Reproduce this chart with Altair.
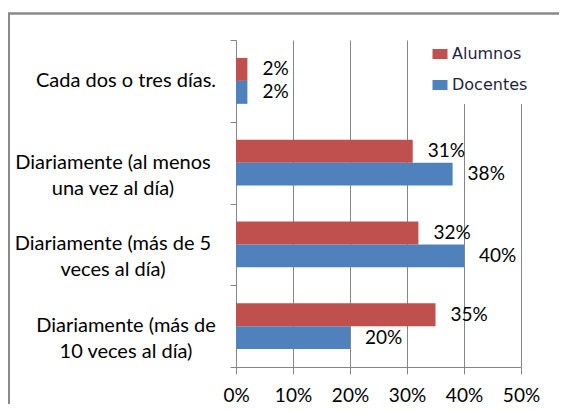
import altair as alt
import pandas as pd

categories = [
    "Cada dos o tres días.",
    "Diariamente (al menos\nuna vez al día)",
    "Diariamente (más de 5\nveces al día)",
    "Diariamente (más de\n10 veces al día)",
]
series = ["Alumnos", "Docentes"]
alumnos = [2, 31, 32, 35]
docentes = [2, 38, 40, 20]
x_ticks = [0, 10, 20, 30, 40, 50]
colors = ["#C0504D", "#4F81BD"]

rows = []
for c, a, d in zip(categories, alumnos, docentes):
    rows.append({"cat": c, "serie": "Alumnos", "val": a / 100})
    rows.append({"cat": c, "serie": "Docentes", "val": d / 100})
df = pd.DataFrame(rows)
df_cat = pd.DataFrame({"cat": categories})

GRAY = "#868686"

y_enc = alt.Y(
    "cat:N",
    sort=categories,
    scale=alt.Scale(paddingInner=0, paddingOuter=0),
    axis=alt.Axis(
        title=None,
        tickBand="extent",
        tickSize=6,
        tickColor=GRAY,
        domainColor=GRAY,
        grid=False,
        labels=False,
    ),
)
y_plain = alt.Y("cat:N", sort=categories)
y_off = alt.YOffset("serie:N", sort=series,
                    scale=alt.Scale(domain=series, paddingInner=0, paddingOuter=0.78))
x_enc = alt.X(
    "val:Q",
    scale=alt.Scale(domain=[0, 0.5], nice=False, zero=True),
    axis=alt.Axis(
        title=None,
        values=[v / 100 for v in x_ticks],
        format=".0%",
        grid=True,
        gridColor=GRAY,
        domainColor=GRAY,
        tickColor=GRAY,
        tickSize=7,
        labelFlush=False,
        labelFont="Lato",
        labelFontSize=19,
        labelColor="#000000",
        labelPadding=12,
    ),
)

legend = alt.Legend(
    title=None,
    orient="none",
    legendX=185,
    legendY=-5,
    fillColor="white",
    padding=11,
    symbolType="M-1,-0.67L1,-0.67L1,0.67L-1,0.67Z",
    symbolSize=225,
    symbolStrokeWidth=0,
    labelFont="DejaVu Sans",
    labelFontSize=16,
    labelColor="#1f1f3f",
    labelOffset=4,
    rowPadding=15,
)

bars = alt.Chart(df).mark_bar().encode(
    y=y_enc,
    yOffset=y_off,
    x=x_enc,
    color=alt.Color("serie:N", sort=series,
                    scale=alt.Scale(domain=series, range=colors), legend=legend),
)

texts = alt.Chart(df).mark_text(
    align="left", baseline="middle", dx=15, font="Lato", fontSize=19, color="#000000"
).encode(
    y=y_plain,
    yOffset=y_off,
    x=alt.X("val:Q"),
    text=alt.Text("val:Q", format=".0%"),
)

cat_style = dict(align="center", baseline="middle", lineBreak="\n", lineHeight=26,
                 font="Lato", fontSize=20, color="#000000")
cat_a = alt.Chart(df_cat).transform_filter(
    alt.FieldOneOfPredicate(field="cat", oneOf=[categories[0], categories[3]])
).mark_text(**cat_style).encode(y=y_plain, x=alt.value(-110), text="cat:N")
cat_b = alt.Chart(df_cat).transform_filter(
    alt.FieldOneOfPredicate(field="cat", oneOf=[categories[1], categories[2]])
).mark_text(**cat_style).encode(y=y_plain, x=alt.value(-123), text="cat:N")

frame_data = alt.Data(values=[{"k": 0}])
frame_left = alt.Chart(frame_data).mark_rule(color="#8a8a8a", strokeWidth=2).encode(
    x=alt.value(-227), y=alt.value(-26.4), y2=alt.value(372)
)
frame_top = alt.Chart(frame_data).mark_rule(color="#8a8a8a", strokeWidth=2.5).encode(
    x=alt.value(-228), x2=alt.value(331), y=alt.value(-26.4)
)

chart = alt.layer(bars, texts, cat_a, cat_b, frame_left, frame_top).properties(
    width=285,
    height=327,
    autosize=alt.AutoSizeParams(type="none"),
    padding={"left": 228, "top": 32, "right": 38, "bottom": 37},
).configure_view(stroke="transparent")

chart.save("out.html", embed_options={"renderer": "svg", "actions": False})
